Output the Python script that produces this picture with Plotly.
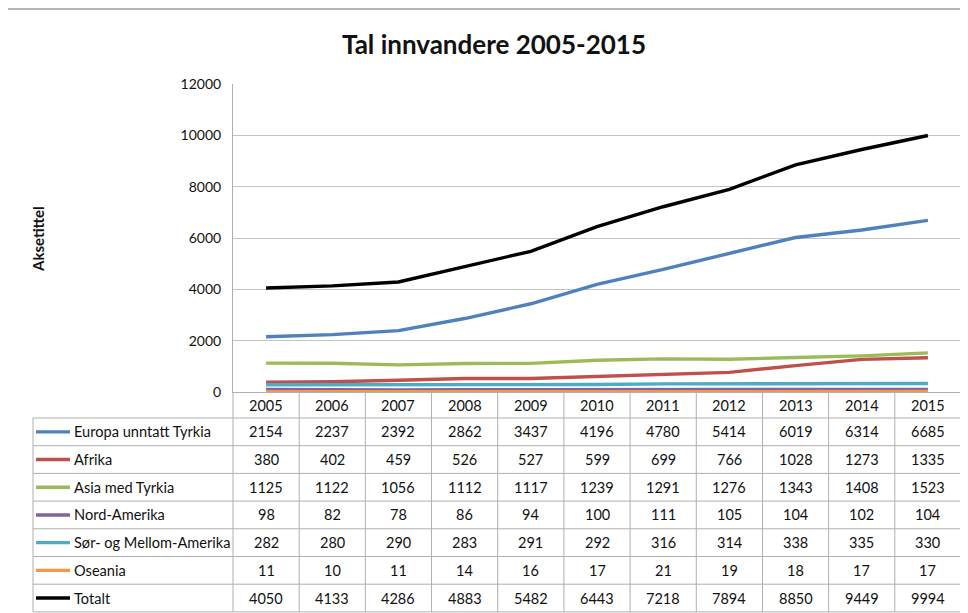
import plotly.graph_objects as go

years = ["2005", "2006", "2007", "2008", "2009", "2010", "2011", "2012", "2013", "2014", "2015"]
series_names = ["Europa unntatt Tyrkia", "Afrika", "Asia med Tyrkia", "Nord-Amerika",
                "Sør- og Mellom-Amerika", "Oseania", "Totalt"]
europa = [2154, 2237, 2392, 2862, 3437, 4196, 4780, 5414, 6019, 6314, 6685]
afrika = [380, 402, 459, 526, 527, 599, 699, 766, 1028, 1273, 1335]
asia = [1125, 1122, 1056, 1112, 1117, 1239, 1291, 1276, 1343, 1408, 1523]
nord_amerika = [98, 82, 78, 86, 94, 100, 111, 105, 104, 102, 104]
sor_mellom_amerika = [282, 280, 290, 283, 291, 292, 316, 314, 338, 335, 330]
oseania = [11, 10, 11, 14, 16, 17, 21, 19, 18, 17, 17]
totalt = [4050, 4133, 4286, 4883, 5482, 6443, 7218, 7894, 8850, 9449, 9994]
series_values = [europa, afrika, asia, nord_amerika, sor_mellom_amerika, oseania, totalt]
y_ticks = [0, 2000, 4000, 6000, 8000, 10000, 12000]
colors = ["#4F81BD", "#C0504D", "#9BBB59", "#8064A2", "#4BACC6", "#F79646", "#000000"]

W, H = 968, 613          # page size
OFF = 8                  # default body margin of the page
FW, FH = W - OFF, H - OFF  # figure size
L, R, T, B = 233, 961, 84, 392   # plot area in page pixels
ROW_TOP = 418
ROW_H = 27.7
FONT = "Lato, Carlito, Calibri, sans-serif"
GRID = "#C4C4C4"
BORDER = "#AFAFAF"
TXT = "#111111"

def px(X):
    return (X - L) / (R - L)

def py(Y):
    return (B - Y) / (B - T)

fig = go.Figure()
for name, vals, col in zip(series_names, series_values, colors):
    fig.add_trace(go.Scatter(x=list(range(len(years))), y=vals, name=name, mode="lines",
                             line=dict(color=col, width=3.4), showlegend=False))

shapes = []
annotations = []
n = len(years)
table_bottom = ROW_TOP + ROW_H * len(series_names)

for k in range(n + 1):
    shapes.append(dict(type="line", xref="paper", yref="paper", x0=k / n, x1=k / n,
                       y0=py(B), y1=py(table_bottom), line=dict(color=BORDER, width=1)))
shapes.append(dict(type="line", xref="paper", yref="paper", x0=px(33), x1=px(33),
                   y0=py(ROW_TOP), y1=py(table_bottom), line=dict(color=BORDER, width=1)))
for r in range(len(series_names) + 1):
    Y = ROW_TOP + ROW_H * r
    shapes.append(dict(type="line", xref="paper", yref="paper", x0=px(33), x1=1,
                       y0=py(Y), y1=py(Y), line=dict(color=BORDER, width=1)))

for i, yr in enumerate(years):
    annotations.append(dict(x=(i + 0.5) / n, y=py((B + ROW_TOP) / 2), xref="paper", yref="paper",
                            text=yr, showarrow=False, xanchor="center", yanchor="middle",
                            font=dict(family=FONT, size=14.5, color=TXT)))

for r, (name, vals, col) in enumerate(zip(series_names, series_values, colors)):
    yc = ROW_TOP + ROW_H * (r + 0.5)
    shapes.append(dict(type="line", xref="paper", yref="paper", x0=px(36), x1=px(70),
                       y0=py(yc), y1=py(yc), line=dict(color=col, width=3.4)))
    annotations.append(dict(x=px(72), y=py(yc), xref="paper", yref="paper", text=name,
                            showarrow=False, xanchor="left", yanchor="middle",
                            font=dict(family=FONT, size=14.6, color=TXT)))
    for i, v in enumerate(vals):
        annotations.append(dict(x=(i + 0.5) / n, y=py(yc), xref="paper", yref="paper",
                                text=str(v), showarrow=False, xanchor="center", yanchor="middle",
                                font=dict(family=FONT, size=14.5, color=TXT)))

# outer chart border (left and top)
shapes.append(dict(type="line", xref="paper", yref="paper", x0=px(6), x1=px(6),
                   y0=py(9), y1=py(H + 5), line=dict(color="#A0A0A0", width=1.5)))
shapes.append(dict(type="line", xref="paper", yref="paper", x0=px(6), x1=px(W + 5),
                   y0=py(9), y1=py(9), line=dict(color="#A0A0A0", width=1.5)))

annotations.append(dict(x=px(38), y=py(239), xref="paper", yref="paper", text="<b>Aksetittel</b>",
                        showarrow=False, textangle=-90, xanchor="center", yanchor="middle",
                        font=dict(family=FONT, size=15, color=TXT)))

fig.update_layout(
    width=FW, height=FH,
    margin=dict(l=L - OFF, r=W - R, t=T - OFF, b=H - B, pad=0),
    paper_bgcolor="white", plot_bgcolor="white",
    title=dict(text="<b>Tal innvandere 2005-2015</b>", x=(494 - OFF) / FW, y=1 - (45 - OFF) / FH,
               xanchor="center", yanchor="middle", font=dict(family=FONT, size=26, color=TXT)),
    xaxis=dict(range=[-0.5, n - 0.5], showgrid=False, zeroline=False, showticklabels=False,
               showline=True, linecolor=BORDER, linewidth=1, ticks=""),
    yaxis=dict(range=[0, 12000], tickvals=y_ticks, ticktext=[str(v) for v in y_ticks],
               showgrid=True, gridcolor=GRID, gridwidth=1,
               zeroline=False, showline=True, linecolor=BORDER, linewidth=1,
               ticks="outside", ticklen=8, tickcolor="rgba(0,0,0,0)",
               tickfont=dict(family=FONT, size=14, color=TXT)),
    shapes=shapes, annotations=annotations,
)

fig.write_html("out.html")
